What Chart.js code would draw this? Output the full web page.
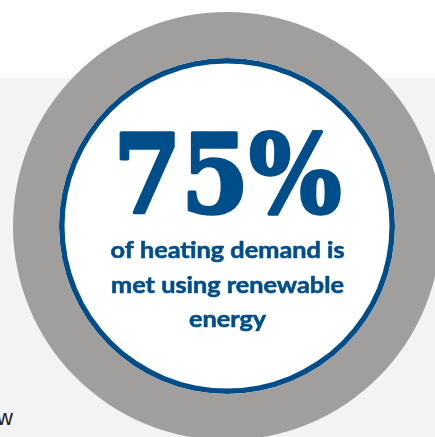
<!DOCTYPE html>
<html>
<head>
<meta charset="utf-8">
<script src="https://cdn.jsdelivr.net/npm/chart.js@4.4.1/dist/chart.umd.min.js"></script>
<style>
  html, body { margin: 0; padding: 0; width: 435px; height: 437px; overflow: hidden; background: #fff; }
  #band { position: absolute; left: 0; top: 78px; width: 435px; height: 359px; background: #f4f2f3; }
  #stub { position: absolute; left: -3px; top: 405px; font: 22px "Liberation Sans", sans-serif; color: #1a1a1a; }
  #ring { position: absolute; left: 13px; top: 12px; }
</style>
</head>
<body>
<div id="band"></div>
<div id="stub">w</div>
<canvas id="ring" width="428" height="428"></canvas>
<script>
// Renewable heating share - ring badge
const sliceLabels = ['Heating demand'];
const ringValues = [100];
const headline = '75%';
const captionLines = ['of heating demand is', 'met using renewable', 'energy'];

const GREY = '#a09f9e';
const BLUE = '#004e89';

const badgeText = {
  id: 'badgeText',
  afterDatasetsDraw(chart) {
    const ctx = chart.ctx;
    const arc = chart.getDatasetMeta(0).data[0];
    const cx = arc.x, cy = arc.y;
    ctx.save();
    ctx.fillStyle = BLUE;
    ctx.strokeStyle = BLUE;
    ctx.lineJoin = 'round';
    ctx.textAlign = 'center';
    ctx.textBaseline = 'alphabetic';

    // big number, thickened a little with a stroke
    ctx.font = 'bold 108px "DejaVu Serif"';
    let w = ctx.measureText(headline).width;
    ctx.save();
    ctx.translate(cx + 0.5, cy - 14);
    ctx.scale(228 / w, 1);
    ctx.lineWidth = 3.5;
    ctx.fillText(headline, 0, 0);
    ctx.strokeText(headline, 0, 0);
    ctx.restore();

    // caption
    ctx.font = 'bold 23px Lato';
    w = ctx.measureText(captionLines[0]).width;
    const sx = 234 / w;
    const offsets = [32, 67, 101];
    ctx.lineWidth = 0.6;
    captionLines.forEach((line, i) => {
      ctx.save();
      ctx.translate(cx + 0.5, cy + offsets[i]);
      ctx.scale(sx, 1);
      ctx.fillText(line, 0, 0);
      ctx.strokeText(line, 0, 0);
      ctx.restore();
    });
    ctx.restore();
  }
};

new Chart(document.getElementById('ring'), {
  type: 'doughnut',
  data: {
    labels: sliceLabels,
    datasets: [
      { data: ringValues, backgroundColor: GREY, weight: 46 },
      { data: ringValues, backgroundColor: BLUE, weight: 5.5 },
      { data: ringValues, backgroundColor: '#ffffff', weight: 162.5 }
    ]
  },
  options: {
    responsive: false,
    animation: false,
    events: [],
    cutout: 0,
    borderWidth: 0,
    layout: { padding: 0 },
    plugins: { legend: { display: false }, tooltip: { enabled: false } }
  },
  plugins: [badgeText]
});
</script>
</body>
</html>
